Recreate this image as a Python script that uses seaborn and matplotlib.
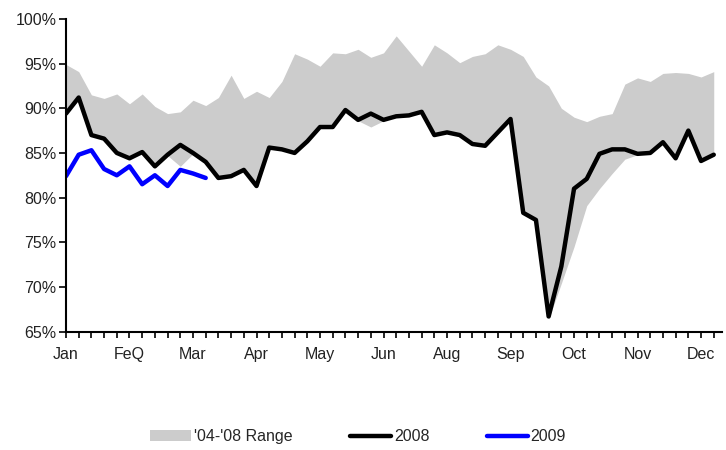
import matplotlib
matplotlib.use("Agg")
import matplotlib.pyplot as plt
import numpy as np
import pandas as pd
import seaborn as sns

# weekly values, % utilisation
month_labels = ["Jan", "FeQ", "Mar", "Apr", "May", "Jun", "Aug", "Sep", "Oct", "Nov", "Dec"]

range_high = [94.9, 94.1, 91.5, 91.1, 91.6, 90.5, 91.6, 90.2, 89.4, 89.6,
              90.9, 90.3, 91.2, 93.7, 91.1, 91.9, 91.2, 93.0, 96.1, 95.5,
              94.7, 96.2, 96.1, 96.6, 95.7, 96.2, 98.1, 96.4, 94.7, 97.1,
              96.2, 95.1, 95.8, 96.1, 97.1, 96.6, 95.8, 93.5, 92.5, 90.0,
              89.0, 88.5, 89.1, 89.4, 92.7, 93.4, 93.0, 93.9, 94.0, 93.9,
              93.5, 94.1]

range_low = [89.3, 91.1, 86.9, 86.5, 84.9, 84.3, 85.0, 83.4, 84.7, 83.5,
             84.9, 83.9, 82.1, 82.3, 83.0, 81.2, 85.5, 85.3, 84.9, 86.2,
             87.8, 87.8, 89.7, 88.6, 87.9, 88.6, 89.0, 89.1, 89.5, 86.9,
             87.2, 86.9, 85.9, 85.7, 87.2, 88.7, 78.2, 77.4, 66.4, 70.4,
             74.5, 79.1, 81.0, 82.7, 84.3, 84.8, 84.9, 86.1, 84.3, 87.4,
             84.0, 84.7]

y2008 = [89.4, 91.2, 87.0, 86.6, 85.0, 84.4, 85.1, 83.5, 84.8, 85.9,
         85.0, 84.0, 82.2, 82.4, 83.1, 81.3, 85.6, 85.4, 85.0, 86.3,
         87.9, 87.9, 89.8, 88.7, 89.4, 88.7, 89.1, 89.2, 89.6, 87.0,
         87.3, 87.0, 86.0, 85.8, 87.3, 88.8, 78.3, 77.5, 66.7, 72.3,
         81.0, 82.1, 84.9, 85.4, 85.4, 84.9, 85.0, 86.2, 84.4, 87.5,
         84.1, 84.8]

y2009 = [82.4, 84.8, 85.3, 83.2, 82.5, 83.5, 81.5, 82.5, 81.3, 83.1,
         82.7, 82.2]


def main():
    sns.set_style("white")
    plt.rcParams["font.family"] = ["Liberation Sans", "DejaVu Sans"]

    weeks = np.arange(len(y2008))
    df08 = pd.DataFrame({"week": weeks, "value": y2008})
    df09 = pd.DataFrame({"week": np.arange(len(y2009)), "value": y2009})

    fig = plt.figure(figsize=(7.26, 4.5), dpi=100)
    ax = fig.add_axes([0.0909, 0.263, 0.9036, 0.695])

    ax.fill_between(weeks, range_low, range_high, color="#cccccc",
                    linewidth=0, label="'04-'08 Range")
    sns.lineplot(data=df08, x="week", y="value", ax=ax, color="black",
                 linewidth=3.2, label="2008")
    sns.lineplot(data=df09, x="week", y="value", ax=ax, color="#0000ff",
                 linewidth=3.2, label="2009")

    ax.set_ylim(65, 100)
    ax.set_xlim(0, 51.65)
    ax.set_yticks(np.arange(65, 101, 5))
    ax.set_yticklabels([f"{v}%" for v in range(65, 101, 5)])
    ax.set_xticks(np.arange(0, 51, 5))
    ax.set_xticklabels(month_labels)
    ax.set_xticks(weeks, minor=True)
    ax.set_xlabel("")
    ax.set_ylabel("")

    for side in ["top", "right"]:
        ax.spines[side].set_visible(False)
    for side in ["left", "bottom"]:
        ax.spines[side].set_color("black")
        ax.spines[side].set_linewidth(1.5)

    ax.tick_params(axis="y", which="major", left=True, length=5, width=1.2,
                   color="black", labelsize=11.5, labelcolor="#222222", pad=2)
    ax.tick_params(axis="x", which="both", bottom=True, length=4, width=1.2,
                   color="black", labelsize=11.5, labelcolor="#222222", pad=7)

    handles, labels = ax.get_legend_handles_labels()
    order = [labels.index(n) for n in ["'04-'08 Range", "2008", "2009"]]
    if ax.get_legend():
        ax.get_legend().remove()
    fig.legend([handles[i] for i in order], [labels[i] for i in order],
               loc="center", bbox_to_anchor=(0.493, 0.029), ncol=3,
               frameon=False, fontsize=11.5, handlelength=2.6,
               handletextpad=0.15, columnspacing=3.6)

    fig.savefig("out.png", dpi=100)
    plt.close(fig)


if __name__ == "__main__":
    main()
